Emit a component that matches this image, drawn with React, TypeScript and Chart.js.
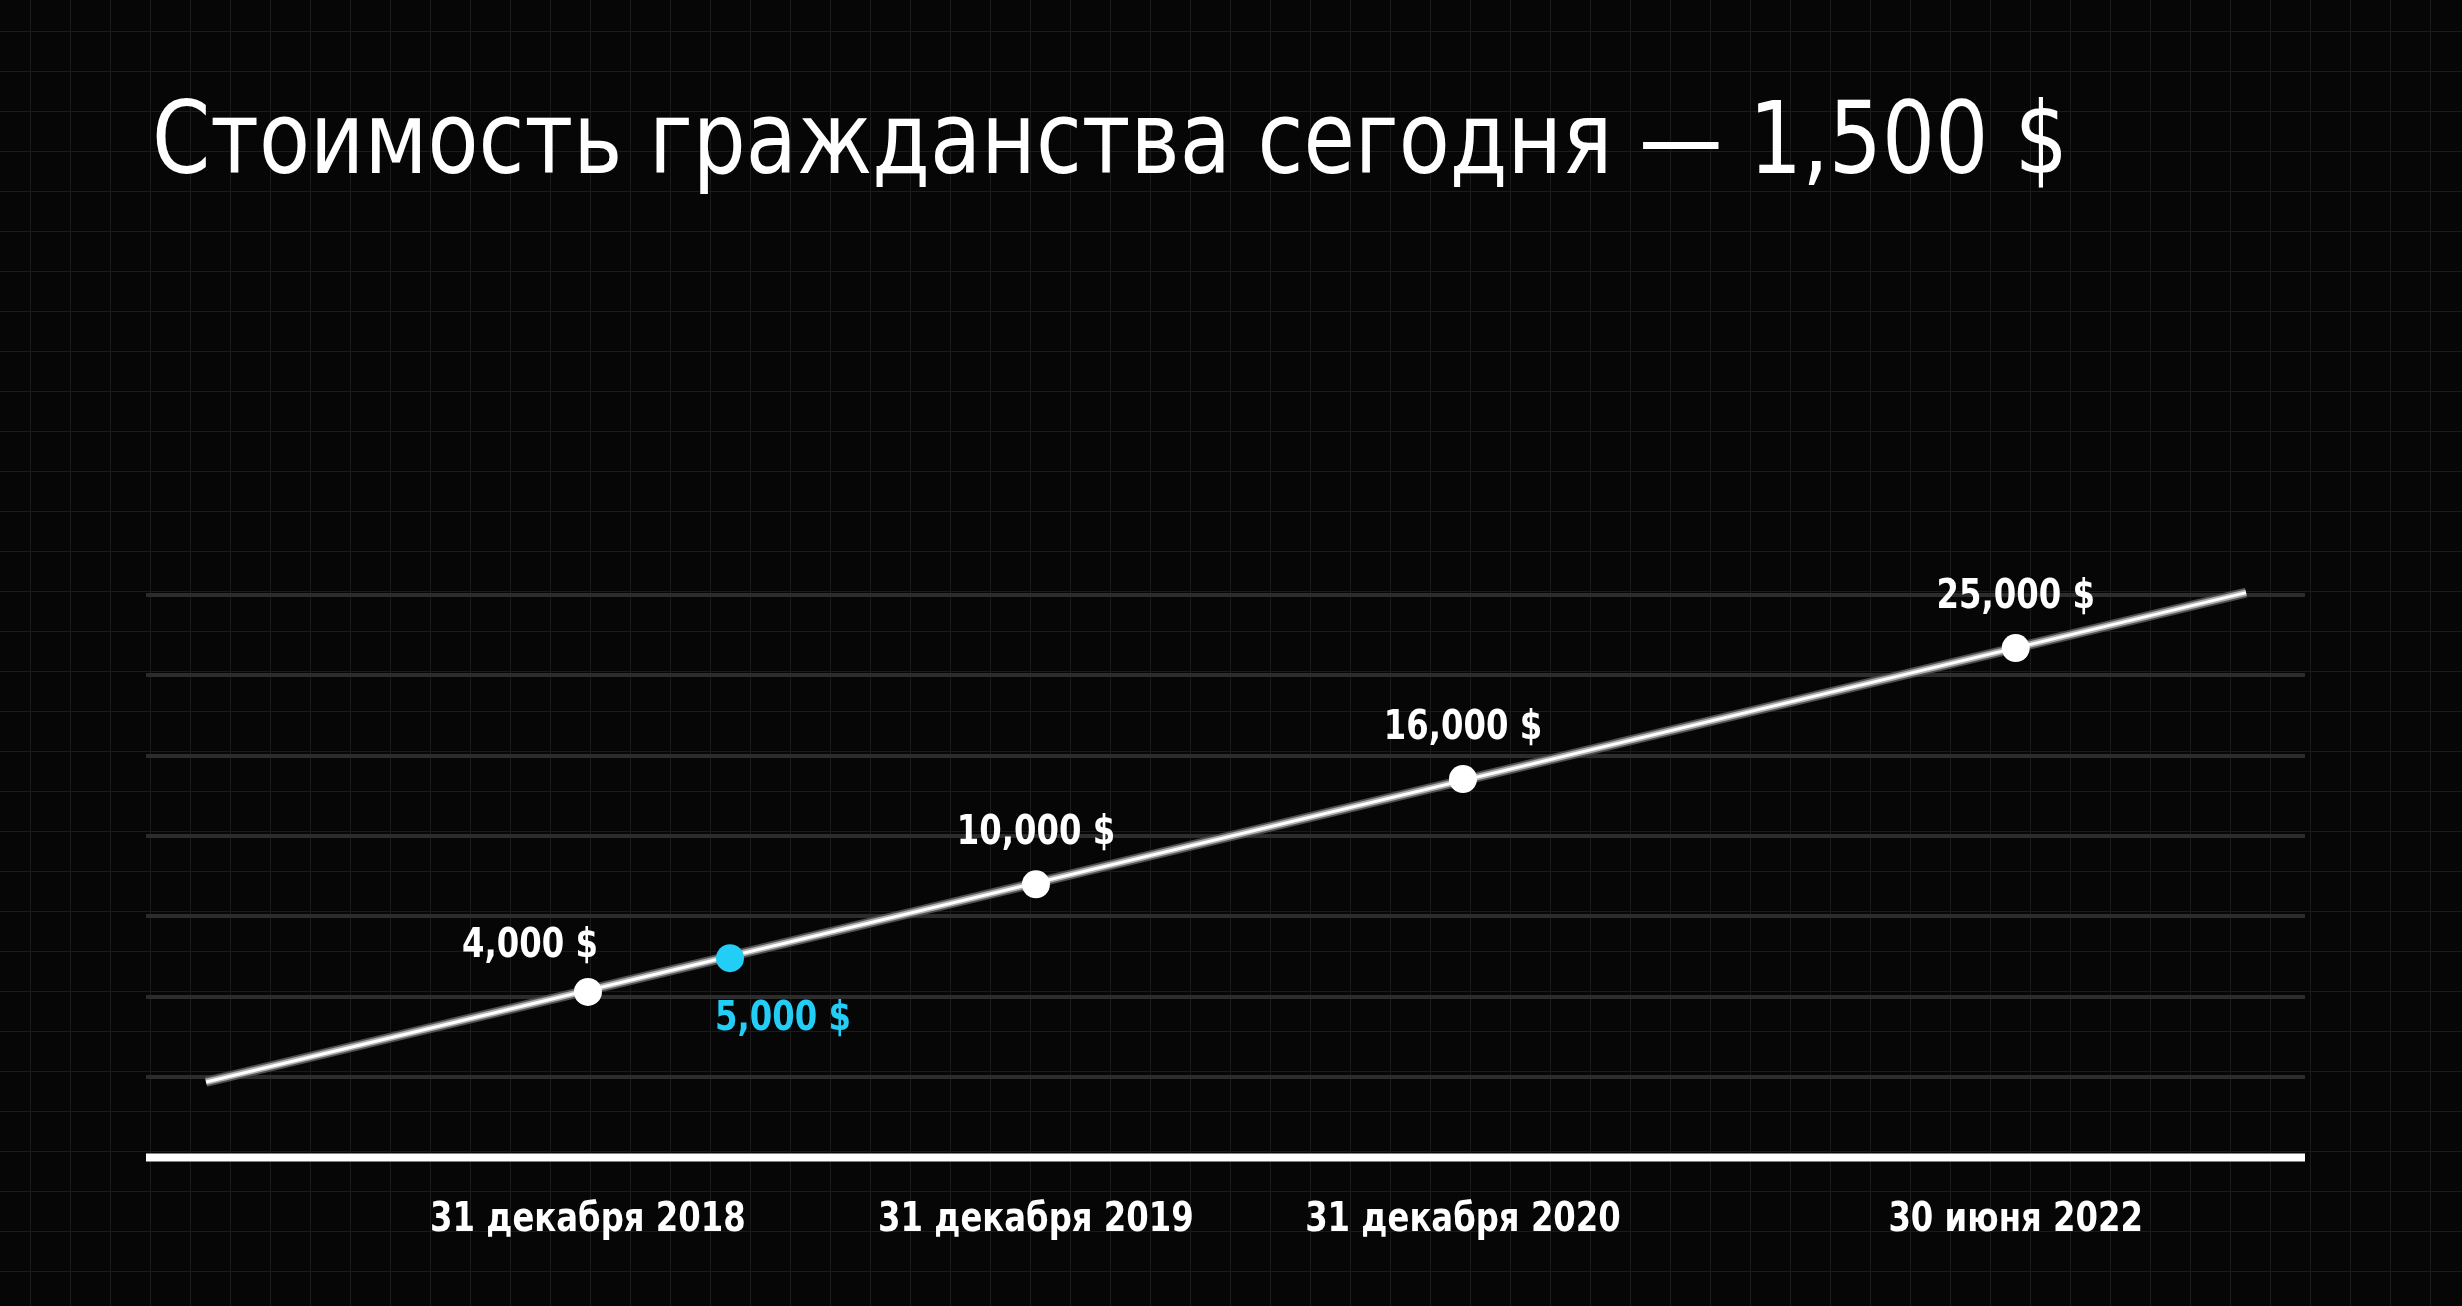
import React, { useEffect, useRef } from "react";
import { Chart, registerables } from "chart.js";

Chart.register(...registerables);

const titleText = "Стоимость гражданства сегодня — 1,500 $";

// trend line (start / end), in chart units
const trendX = [2.78, 97.27];
const trendY = [0.94, 7.03];

// milestone points
const priceLabels = ["4,000 $", "5,000 $", "10,000 $", "16,000 $", "25,000 $"];
const pointX = [20.47, 27.05, 41.22, 61.0, 86.6];
const pointY = [2.06, 2.48, 3.4, 4.71, 6.34];
const highlighted = [false, true, false, false, false];

// x-axis date labels
const dateTickX = [20.47, 41.22, 61.0, 86.6];
const dateTickLabels = ["31 декабря 2018", "31 декабря 2019", "31 декабря 2020", "30 июня 2022"];

const W = 2462;
const H = 1306;
const BLUE = "#22cdf6";
const placement = ["left", "below", "above", "above", "above"];

export default function App() {
  const ref = useRef<HTMLCanvasElement | null>(null);

  useEffect(() => {
    document.body.style.margin = "0";
    const canvas = ref.current!;
    const linePts = trendX.map((x, i) => ({ x, y: trendY[i] }));
    const pts = pointX.map((x, i) => ({ x, y: pointY[i] }));

    const axisLinePlugin = {
      id: "axisLine",
      beforeDatasetsDraw(chart: any) {
        const ctx = chart.ctx as CanvasRenderingContext2D;
        const a = chart.chartArea;
        ctx.save();
        ctx.strokeStyle = "#ffffff";
        ctx.lineWidth = 8;
        ctx.lineCap = "butt";
        ctx.beginPath();
        ctx.moveTo(a.left, a.bottom);
        ctx.lineTo(a.right, a.bottom);
        ctx.stroke();
        ctx.restore();
      },
    };

    const textPlugin = {
      id: "texts",
      afterDraw(chart: any) {
        const ctx = chart.ctx as CanvasRenderingContext2D;
        // Title
        ctx.save();
        ctx.fillStyle = "#ffffff";
        ctx.font = '400 100px "DejaVu Sans"';
        const tw = ctx.measureText(titleText).width;
        ctx.translate(152, 173);
        ctx.scale(1916 / tw, 1);
        ctx.textAlign = "left";
        ctx.textBaseline = "alphabetic";
        ctx.fillText(titleText, 0, 0);
        ctx.restore();

        const font = 'bold 41px "DejaVu Sans"';
        ctx.save();
        ctx.font = font;
        const k = 136 / ctx.measureText("4,000 $").width;
        ctx.restore();

        const drawText = (t: string, x: number, baseY: number, align: CanvasTextAlign, color: string) => {
          ctx.save();
          ctx.font = font;
          ctx.fillStyle = color;
          ctx.textAlign = align;
          ctx.textBaseline = "alphabetic";
          ctx.translate(x, baseY);
          ctx.scale(k, 1);
          ctx.fillText(t, 0, 0);
          ctx.restore();
        };

        const xs = chart.scales.x;
        const ys = chart.scales.y;
        priceLabels.forEach((lab, i) => {
          const px = xs.getPixelForValue(pointX[i]);
          const py = ys.getPixelForValue(pointY[i]);
          const color = highlighted[i] ? BLUE : "#ffffff";
          if (placement[i] === "left") drawText(lab, px + 10, py - 35, "right", color);
          else if (placement[i] === "below") drawText(lab, px - 15, py + 72, "left", color);
          else drawText(lab, px, py - 40, "center", color);
        });

        dateTickLabels.forEach((lab, i) => {
          const px = xs.getPixelForValue(dateTickX[i]);
          drawText(lab, px, 1231, "center", "#ffffff");
        });
      },
    };

    const chart = new Chart(canvas, {
      type: "line",
      data: {
        datasets: [
          {
            data: pts,
            showLine: false,
            pointRadius: 14,
            pointHoverRadius: 14,
            pointBorderWidth: 0,
            pointBackgroundColor: highlighted.map((h) => (h ? BLUE : "#ffffff")),
            clip: false as any,
          },
          {
            data: linePts,
            borderColor: "#ffffff",
            borderWidth: 3,
            pointRadius: 0,
            clip: false as any,
          },
          {
            data: linePts,
            borderColor: "#b0b0b0",
            borderWidth: 6.5,
            pointRadius: 0,
            clip: false as any,
          },
          {
            data: linePts,
            borderColor: "#505050",
            borderWidth: 10,
            pointRadius: 0,
            clip: false as any,
          },
        ],
      },
      options: {
        responsive: false,
        animation: false,
        events: [],
        layout: { padding: { left: 146, right: W - 2305, top: 595, bottom: H - 1157.5 } },
        plugins: { legend: { display: false }, tooltip: { enabled: false }, title: { display: false } },
        scales: {
          x: {
            type: "linear",
            min: 0,
            max: 100,
            grid: { display: false, drawTicks: false },
            ticks: { display: false },
            border: { display: false },
            afterFit: (s: any) => {
              s.height = 0;
            },
          },
          y: {
            type: "linear",
            min: 0,
            max: 7,
            ticks: { display: false, stepSize: 1 },
            grid: {
              drawTicks: false,
              lineWidth: 4,
              color: (c: any) => (c.tick && c.tick.value === 0 ? "rgba(0,0,0,0)" : "#2c2c2c"),
            },
            border: { display: false },
            afterFit: (s: any) => {
              s.width = 0;
            },
          },
        },
      },
      plugins: [axisLinePlugin, textPlugin],
    });
    return () => chart.destroy();
  }, []);

  return (
    <div
      style={{
        position: "fixed",
        left: 0,
        top: 0,
        width: W,
        height: H,
        backgroundColor: "#060606",
        backgroundImage:
          "linear-gradient(#1b1b1b 1px, transparent 1px), linear-gradient(90deg, #1b1b1b 1px, transparent 1px)",
        backgroundSize: "40px 40px",
        backgroundPosition: "30px 31px",
      }}
    >
      <canvas ref={ref} width={W} height={H} style={{ position: "absolute", left: 0, top: 0 }} />
    </div>
  );
}
